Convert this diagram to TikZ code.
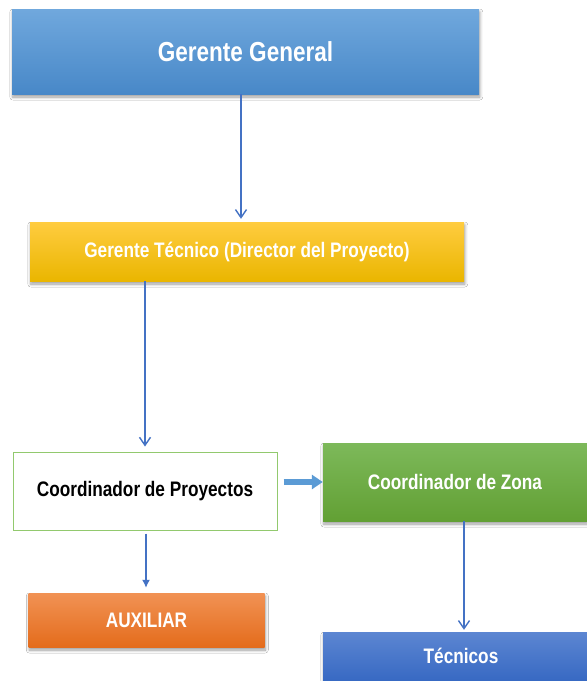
\documentclass[tikz,border=0pt]{standalone}
\usepackage{fontspec}
\setmainfont{Liberation Sans}[FakeStretch=0.82]
\usetikzlibrary{arrows.meta,calc,shadows.blur}
\definecolor{arrblue}{HTML}{4472C4}
\definecolor{blockblue}{HTML}{5B9BD5}
\definecolor{cpgreen}{HTML}{92C96E}
\definecolor{ggtop}{RGB}{112,168,221}
\definecolor{ggbot}{RGB}{72,136,200}
\definecolor{gttop}{RGB}{255,204,64}
\definecolor{gtmid}{RGB}{255,192,0}
\definecolor{gtbot}{RGB}{234,182,0}
\definecolor{cztop}{RGB}{125,185,90}
\definecolor{czbot}{RGB}{98,160,52}
\definecolor{auxtop}{RGB}{241,146,84}
\definecolor{auxbot}{RGB}{228,108,28}
\definecolor{tectop}{RGB}{92,134,210}
\definecolor{tecbot}{RGB}{44,96,190}
\begin{document}
\begin{tikzpicture}[x=1pt,y=-1pt,
  box/.style={rectangle, inner sep=0pt, text=white, font=\bfseries\fontsize{21}{24}\selectfont,
    blur shadow={shadow xshift=0.8pt, shadow yshift=-3pt, shadow blur steps=6, shadow blur radius=3pt, shadow opacity=40}},
  conn/.style={draw=arrblue, line width=1.4pt},
  vtip/.style={conn, -{Straight Barb[length=8pt,width=11pt,line width=1.4pt]}},
  ftip/.style={conn, -{Latex[length=8pt,width=8pt]}},
  blockarrow/.style={draw=blockblue, line width=6.5pt, -{Triangle[length=11pt,width=14pt]}}
]
\clip (0,0) rectangle (587,681);
\fill[white] (0,0) rectangle (587,681);

\node[box, minimum width=467pt, minimum height=85pt, top color=ggtop, bottom color=ggbot,
  font=\bfseries\fontsize{27.5}{30}\selectfont] (gg) at (245.5,51.5) {Gerente General};

\node[box, minimum width=434pt, minimum height=59pt, top color=gttop, middle color=gtmid, bottom color=gtbot] (gt) at (247,251.5) {Gerente Técnico (Director del Proyecto)};

\node[rectangle, inner sep=0pt, draw=cpgreen, line width=1pt, fill=white, minimum width=264pt, minimum height=78pt,
  font=\bfseries\fontsize{21}{24}\selectfont] (cp) at (145,491) {Coordinador de Proyectos};

\node[box, minimum width=264pt, minimum height=78pt, top color=cztop, bottom color=czbot] (cz) at (455,482) {Coordinador de Zona};

\node[box, minimum width=236pt, minimum height=54pt, top color=auxtop, bottom color=auxbot] (aux) at (146.5,620) {AUXILIAR};

\node[box, minimum width=276pt, minimum height=64pt, top color=tectop, bottom color=tecbot] (tec) at (461,664) {};
\node[text=white, font=\bfseries\fontsize{21}{24}\selectfont] (tect) at (461,656) {Técnicos};

% connectors
\draw[vtip, shorten >=3pt] ($(gg.south)+(-4.5,0)$) -- ($(gg.south |- gt.north)+(-4.5,0)$);
\draw[vtip, shorten >=5pt] (gt.south -| cp.north) -- (cp.north);
\draw[ftip, shorten <=3pt, shorten >=5pt] ($(cp.south)+(1,0)$) -- ($(cp.south |- aux.north)+(1,0)$);
\draw[vtip, shorten >=2pt] ($(cz.south)+(9,0)$) -- ($(cz.south |- tec.north)+(9,0)$);
\draw[blockarrow] ($(cp.east |- cz.west)+(6,0)$) -- (cz.west);
\end{tikzpicture}
\end{document}
